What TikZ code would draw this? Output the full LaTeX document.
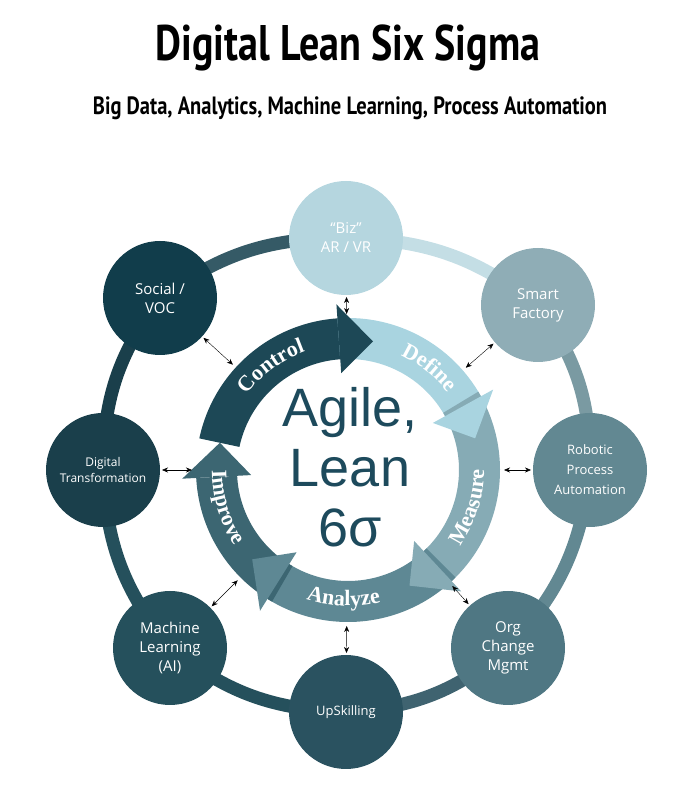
\documentclass[tikz,border=0pt]{standalone}
\usepackage{fontspec}
\setmainfont{Open Sans}
\newfontfamily\serifb{Liberation Serif}
\newfontfamily\titlef{PT Sans}
\newfontfamily\agilef{Liberation Sans}
\usetikzlibrary{calc,decorations.text,arrows.meta}
\definecolor{cAR}{HTML}{B5D6DF}
\definecolor{cSF}{HTML}{8FADB6}
\definecolor{cRPA}{HTML}{628892}
\definecolor{cOrg}{HTML}{4F7783}
\definecolor{cUp}{HTML}{2A5260}
\definecolor{cML}{HTML}{25505C}
\definecolor{cDT}{HTML}{1A3F4B}
\definecolor{cSo}{HTML}{113D4B}
\definecolor{cCtl}{HTML}{1D4856}
\definecolor{cDef}{HTML}{A9D4E0}
\definecolor{cMea}{HTML}{86ABB5}
\definecolor{cAna}{HTML}{5E8894}
\definecolor{cImp}{HTML}{3C6672}
\definecolor{cCenter}{HTML}{1D4A5C}
\tikzset{
  sat/.style={circle,minimum size=114pt,inner sep=0pt,text=white,align=center,font=\fontsize{15}{19}\selectfont},
  link/.style={{Stealth[length=6pt,width=5pt]}-{Stealth[length=6pt,width=5pt]},thin,black},
  ring/.style={line width=13pt}
}
\newcommand\rOut{152}
\newcommand\rIn{111}
\newcommand\segbody[3]{\fill[#3] ($(C)+(#1:\rOut)$) arc[start angle=#1,end angle=#2,radius=\rOut] -- ($(C)+(#2:\rIn)$) arc[start angle=#2,end angle=#1,radius=\rIn] -- cycle;}
\newcommand\seghead[2]{\fill[#2] ($(C)+(#1:\rOut)$) -- ($(C)+(#1:166)$) -- ($(C)+({#1-15}:131)$) -- ($(C)+(#1:97)$) -- ($(C)+(#1:\rIn)$) -- cycle;}
\newcommand\arctext[4]{\path[decorate,decoration={text along path,text align=center,text={|\serifb\fontsize{22}{22}\selectfont\bfseries\color{white}|#4}}] ($(C)+(#1:#3)$) arc[start angle=#1,end angle=#2,radius=#3];}
\begin{document}
\begin{tikzpicture}[x=1pt,y=1pt]
\useasboundingbox (0,0) rectangle (700,800);
\coordinate (C) at (348,330);
% title
\node[xscale=0.8] (title) at (348,752) {\titlef\bfseries\fontsize{50}{54}\selectfont Digital Lean Six Sigma};
\node[xscale=0.82] (sub) at (350,692) {\titlef\bfseries\fontsize{25}{28}\selectfont Big Data, Analytics, Machine Learning, Process Automation};
% satellites positions
\coordinate (pAR) at (346,562);
\coordinate (pSF) at (538,495);
\coordinate (pRPA) at (590,330);
\coordinate (pOrg) at (508,152);
\coordinate (pUp) at (346,88);
\coordinate (pML) at (170,152);
\coordinate (pDT) at (103,330);
\coordinate (pSo) at (160,502);
% outer ring segments
\draw[ring,color=cAR!80!white] (pAR) to[bend left=18] (pSF);
\draw[ring,color=cRPA!85!white] (pSF) to[bend left=18] (pRPA);
\draw[ring,color=cRPA] (pRPA) to[bend left=18] (pOrg);
\draw[ring,color=cUp!90!white] (pOrg) to[bend left=18] (pUp);
\draw[ring,color=cML] (pUp) to[bend left=18] (pML);
\draw[ring,color=cML] (pML) to[bend left=18] (pDT);
\draw[ring,color=cDT] (pDT) to[bend left=18] (pSo);
\draw[ring,color=cSo!85!white] (pSo) to[bend left=18] (pAR);
% satellites
\node[sat,fill=cAR] (ar) at (pAR) {``Biz''\\AR / VR};
\node[sat,fill=cSF] (sf) at (pSF) {Smart\\Factory};
\node[sat,fill=cRPA,font=\fontsize{13}{20}\selectfont] (rpa) at (pRPA) {Robotic\\Process\\Automation};
\node[sat,fill=cOrg] (org) at (pOrg) {Org\\Change\\Mgmt};
\node[sat,fill=cUp,font=\fontsize{13}{16}\selectfont] (up) at (pUp) {UpSkilling};
\node[sat,fill=cML] (ml) at (pML) {Machine\\Learning\\(AI)};
\node[sat,fill=cDT,font=\fontsize{12}{16}\selectfont] (dt) at (pDT) {Digital\\Transformation};
\node[sat,fill=cSo] (so) at (pSo) {Social /\\VOC};
% inner cycle
\segbody{168}{92}{cCtl}
\segbody{94}{29}{cDef}
\segbody{31}{-47}{cMea}
\segbody{-45}{-122}{cAna}
\segbody{-120}{-177}{cImp}
\seghead{29}{cDef}
\seghead{-47}{cMea}
\seghead{-122}{cAna}
\seghead{183}{cImp}
\seghead{94}{cCtl}
\arctext{150}{103}{126}{Control}
\arctext{73}{30}{126}{Define}
\arctext{-36}{2}{136}{Measure}
\arctext{-118}{-66}{136}{Analyze}
\arctext{176}{218}{136}{Improve}
% center
\node[text=cCenter,align=center,font=\agilef\fontsize{54}{60}\selectfont] (center) at (350,333) {Agile,\\Lean\\6σ};
% links
\foreach \s in {ar,sf,rpa,org,up,ml,dt,so}{
  \coordinate (e\s) at ($(C)!156pt!(\s)$);
  \draw[link] ($(\s.center)!59pt!(C)$) -- (e\s);
}
\end{tikzpicture}
\end{document}
